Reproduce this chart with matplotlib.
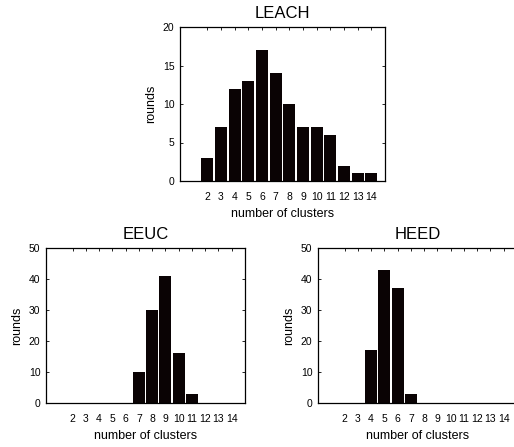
import numpy as np
import matplotlib
matplotlib.use("Agg")
import matplotlib.pyplot as plt

plt.rcParams['font.family'] = ['Liberation Sans', 'DejaVu Sans']

clusters = list(range(2, 15))
leach_rounds = [3, 7, 12, 13, 17, 14, 10, 7, 7, 6, 2, 1, 1]
eeuc_rounds = [0, 0, 0, 0, 0, 10, 30, 41, 16, 3, 0, 0, 0]
heed_rounds = [0, 0, 17, 43, 37, 3, 0, 0, 0, 0, 0, 0, 0]

W, H = 514, 447


def px_axes(fig, left, top, right, bottom):
    """Add axes from pixel box of the reference image."""
    return fig.add_axes([left / W, 1 - bottom / H, (right - left) / W, (bottom - top) / H])


def histo(ax, title, values, ymax, ystep):
    ax.bar(clusters, values, width=0.9, color='#0a0304', edgecolor='none')
    ax.set_xlim(0, 15)
    ax.set_ylim(0, ymax)
    ax.set_xticks(clusters)
    ax.set_yticks(np.arange(0, ymax + 1, ystep))
    ax.tick_params(direction='in', length=2.5, width=0.6, labelsize=7.5,
                   top=True, right=True, bottom=False, left=True)
    ax.tick_params(axis='x', pad=8)
    ax.tick_params(axis='y', pad=4)
    for s in ax.spines.values():
        s.set_linewidth(0.9)
    ax.set_title(title, fontsize=12, pad=6.5)
    ax.set_xlabel('number of clusters', fontsize=9, labelpad=4.5)
    ax.set_ylabel('rounds', fontsize=9, labelpad=4)


fig = plt.figure(figsize=(W / 100, H / 100), dpi=100)

ax1 = px_axes(fig, 180, 27, 385, 181)
histo(ax1, 'LEACH', leach_rounds, 20, 5)

ax2 = px_axes(fig, 46, 248, 245, 403)
histo(ax2, 'EEUC', eeuc_rounds, 50, 10)

ax3 = px_axes(fig, 318, 248, 517, 403)
histo(ax3, 'HEED', heed_rounds, 50, 10)

fig.savefig('out.png', dpi=100)
